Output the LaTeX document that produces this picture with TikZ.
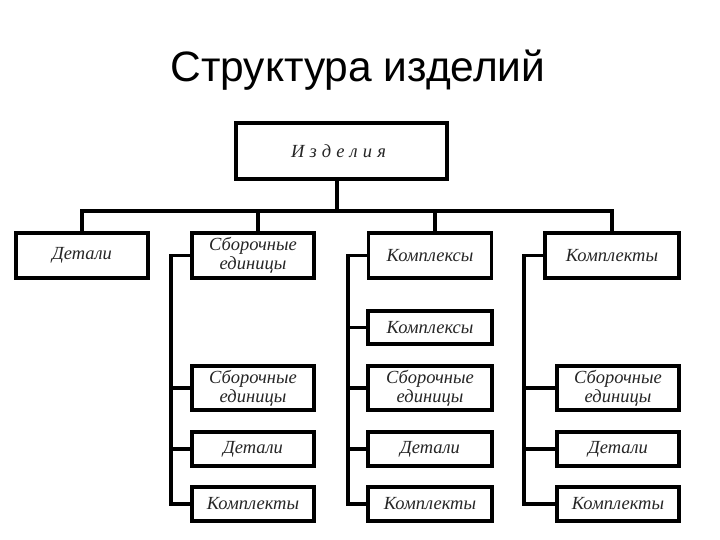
\documentclass[tikz,border=0pt]{standalone}
\usepackage{fontspec}
\setmainfont{Liberation Serif}
\newfontfamily\titlefont{Liberation Sans}
\begin{document}
\begin{tikzpicture}[x=1pt,y=-1pt,
  box/.style={draw=black,line width=3.2pt,fill=white,inner sep=0pt,align=center,
    font=\itshape\fontsize{18.5}{19}\selectfont,text=black!85},
  conn/.style={draw=black,line width=3.2pt}]
\useasboundingbox (0,0) rectangle (720,540);
\node[anchor=base,font=\titlefont\fontsize{42.5}{44}\selectfont] (title) at (358,82) {Структура изделий};
% top
\node[box,minimum width=211,minimum height=56] (top) at (341.5,151) {\kern-6pt И\;з\;д\;е\;л\;и\;я};
% row 1
\node[box,minimum width=132,minimum height=45] (d1) at (82,255.5) {Детали};
\node[box,minimum width=122,minimum height=45] (s1) at (253,255.5) {Сборочные\\единицы};
\node[box,minimum width=123,minimum height=45] (k1) at (430,255.5) {Комплексы};
\node[box,minimum width=134,minimum height=45] (t1) at (612,255.5) {Комплекты};
% column 2
\node[box,minimum width=122,minimum height=44] (s2) at (253,388) {Сборочные\\единицы};
\node[box,minimum width=122,minimum height=34] (d2) at (253,449) {Детали};
\node[box,minimum width=122,minimum height=34] (t2) at (253,504) {Комплекты};
% column 3
\node[box,minimum width=124,minimum height=33] (k3) at (430,327.5) {Комплексы};
\node[box,minimum width=124,minimum height=44] (s3) at (430,388) {Сборочные\\единицы};
\node[box,minimum width=124,minimum height=34] (d3) at (430,449) {Детали};
\node[box,minimum width=124,minimum height=34] (t3) at (430,504) {Комплекты};
% column 4
\node[box,minimum width=122,minimum height=44] (s4) at (618,388) {Сборочные\\единицы};
\node[box,minimum width=122,minimum height=34] (d4) at (618,449) {Детали};
\node[box,minimum width=122,minimum height=34] (t4) at (618,504) {Комплекты};
% bus
\coordinate (bus) at (337,211);
\draw[conn] ([xshift=-4.5]top.south) -- (bus);
\draw[conn] (d1.north) -- (d1.north |- bus) -- (t1.north |- bus) -- (t1.north);
\draw[conn] ([xshift=5]s1.north) -- ([xshift=5]s1.north |- bus);
\draw[conn] ([xshift=5]k1.north) -- ([xshift=5]k1.north |- bus);
% spines
\coordinate (sp2) at (171,0);
\coordinate (sp3) at (348,0);
\coordinate (sp4) at (524,0);
\draw[conn] (s1.west) -- (sp2 |- s1.west) -- (sp2 |- t2.west) -- (t2.west);
\draw[conn] (sp2 |- s2.west) -- (s2.west);
\draw[conn] (sp2 |- d2.west) -- (d2.west);
\draw[conn] (k1.west) -- (sp3 |- k1.west) -- (sp3 |- t3.west) -- (t3.west);
\draw[conn] (sp3 |- k3.west) -- (k3.west);
\draw[conn] (sp3 |- s3.west) -- (s3.west);
\draw[conn] (sp3 |- d3.west) -- (d3.west);
\draw[conn] (t1.west) -- (sp4 |- t1.west) -- (sp4 |- t4.west) -- (t4.west);
\draw[conn] (sp4 |- s4.west) -- (s4.west);
\draw[conn] (sp4 |- d4.west) -- (d4.west);
\end{tikzpicture}
\end{document}
